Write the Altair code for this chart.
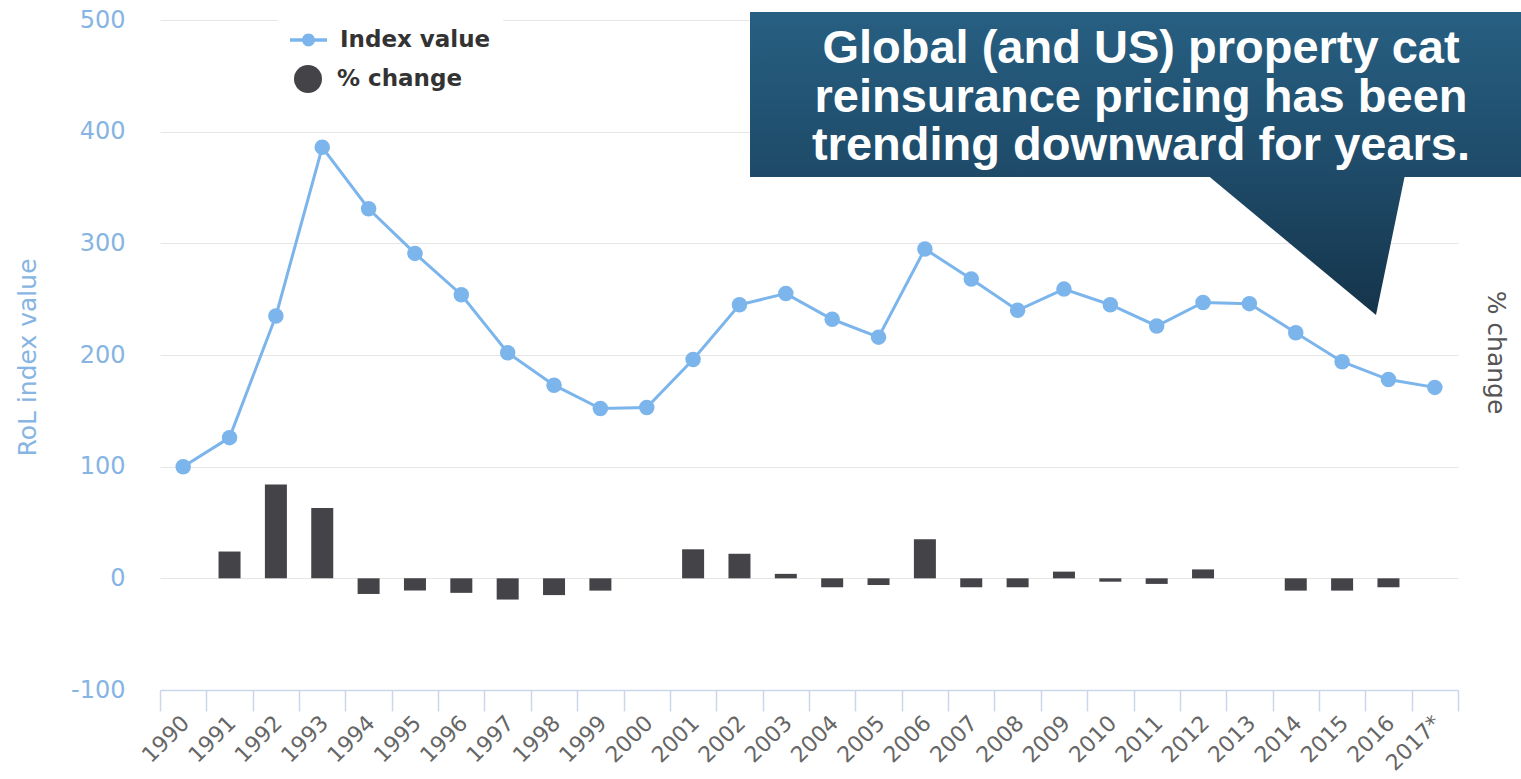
import altair as alt
import pandas as pd

# ---- data ----
years = ["1990", "1991", "1992", "1993", "1994", "1995", "1996", "1997", "1998", "1999",
         "2000", "2001", "2002", "2003", "2004", "2005", "2006", "2007", "2008", "2009",
         "2010", "2011", "2012", "2013", "2014", "2015", "2016", "2017*"]
index_values = [100, 126, 235, 386, 331, 291, 254, 202, 173, 152,
                153, 196, 245, 255, 232, 216, 295, 268, 240, 259,
                245, 226, 247, 246, 220, 194, 178, 171]
pct_change = [None, 24, 84, 63, -14, -11, -13, -19, -15, -11,
              0, 26, 22, 4, -8, -6, 35, -8, -8, 6,
              -3, -5, 8, 0, -11, -11, -8, None]
series_names = ["Index value", "% change"]
callout_lines = ["Global (and US) property cat",
                 "reinsurance pricing has been",
                 "trending downward for years."]
y_ticks = [-100, 0, 100, 200, 300, 400, 500]

df = pd.DataFrame({
    "year": years,
    "index": index_values,
    "pct": pct_change,
    "s1": series_names[0],
    "s2": series_names[1],
})
bars_df = df.dropna(subset=["pct"])

W, H = 1298, 670
LINE_BLUE = "#7cb5ec"
BAR_DARK = "#434348"
AXIS_BLUE = "#86b5e3"
FONT = "DejaVu Sans"

x_enc = alt.X("year:N", sort=years,
              scale=alt.Scale(paddingInner=0, paddingOuter=0),
              axis=alt.Axis(title=None, labelAngle=-45, labelAlign="right",
                            labelBaseline="top", labelFontSize=22,
                            labelColor="#666666", labelFont=FONT,
                            tickBand="extent", tickSize=21, tickColor="#ccd6eb",
                            tickWidth=1.5,
                            domainColor="#ccd6eb", domainWidth=1.5, grid=False,
                            labelPadding=1, labelOffset=-5))

left_axis = alt.Axis(title="RoL index value", values=y_ticks,
                     labelExpr="datum.value + ''",
                     labelFontSize=24, labelColor=AXIS_BLUE, labelFont=FONT,
                     labelPadding=35, ticks=False, domain=False,
                     grid=True, gridColor="#e6e6e6", gridWidth=1.2,
                     titleColor=AXIS_BLUE, titleFontSize=25, titleFontWeight="normal",
                     titleFont=FONT, titleX=-133, titleY=337,
                     titleAngle=-90, titleAlign="center", titleBaseline="middle")

y_scale = alt.Scale(domain=[-100, 500], nice=False, zero=False)

line = alt.Chart(df).mark_line(color=LINE_BLUE, strokeWidth=3).encode(
    x=x_enc,
    y=alt.Y("index:Q", scale=y_scale, axis=left_axis),
)

LEG_PATH = ("M-1,-0.09L1,-0.09L1,0.09L-1,0.09Z "
            "M0.35,0A0.35,0.35 0 1,1 -0.35,0A0.35,0.35 0 1,1 0.35,0Z")

points = alt.Chart(df).mark_point(filled=True, size=240, opacity=1, shape="circle").encode(
    x=x_enc,
    y=alt.Y("index:Q", scale=y_scale, axis=left_axis),
    color=alt.Color("s1:N", scale=alt.Scale(domain=[series_names[0]], range=[LINE_BLUE]),
                    legend=alt.Legend(title=None, orient="none", legendX=118, legendY=-10.5,
                                      symbolType=LEG_PATH, symbolSize=1369,
                                      symbolStrokeWidth=0, symbolOpacity=1,
                                      labelFont=FONT, labelFontSize=23,
                                      labelFontWeight="bold", labelColor="#333333",
                                      labelOffset=13, padding=12, fillColor="white")),
)

left = alt.layer(line, points)

bars = alt.Chart(bars_df).mark_bar(size=22).encode(
    x=x_enc,
    y=alt.Y("pct:Q", scale=y_scale,
            axis=alt.Axis(orient="right", title="% change", labels=False, ticks=False,
                          domain=False, grid=False, titleColor="#555555",
                          titleFontSize=25, titleFontWeight="normal", titleFont=FONT,
                          titleX=37, titleY=332, titleAngle=90,
                          titleAlign="center", titleBaseline="middle")),
    fill=alt.Fill("s2:N", scale=alt.Scale(domain=[series_names[1]], range=[BAR_DARK]),
                  legend=alt.Legend(title=None, orient="none", legendX=122, legendY=33,
                                    symbolType="circle", symbolSize=784,
                                    symbolStrokeWidth=0, symbolOpacity=1,
                                    labelFont=FONT, labelFontSize=23,
                                    labelFontWeight="bold", labelColor="#333333",
                                    labelOffset=15, padding=12, fillColor="white")),
)

one = pd.DataFrame({"a": [0]})

box_grad = alt.Gradient(gradient="linear", x1=0, x2=0, y1=0, y2=1,
                        stops=[alt.GradientStop(color="#275f82", offset=0),
                               alt.GradientStop(color="#1e4a68", offset=1)])
tri_grad = alt.Gradient(gradient="linear", x1=0, x2=0, y1=0, y2=1,
                        stops=[alt.GradientStop(color="#1e4a68", offset=0),
                               alt.GradientStop(color="#15344a", offset=1)])

callout_box = alt.Chart(one).mark_rect(fill=box_grad, strokeWidth=0).encode(
    x=alt.value(590), x2=alt.value(1361), y=alt.value(-8), y2=alt.value(157))

TRI_PATH = "M-1,-0.72L1,-0.72L0.707,0.697Z"
callout_tip = alt.Chart(one).mark_point(shape=TRI_PATH, size=39204, filled=True,
                                        fill=tri_grad, opacity=1, strokeWidth=0).encode(
    x=alt.value(1146), y=alt.value(226))

callout_text = alt.Chart(one).mark_text(
    text=callout_lines, align="center", baseline="alphabetic", lineHeight=48.5,
    font="Liberation Sans", fontSize=47, fontWeight="bold", color="white").encode(
    x=alt.value(981), y=alt.value(43))

chart = alt.layer(left, bars, callout_box, callout_tip, callout_text).resolve_scale(
    y="independent", color="independent"
).properties(
    width=W, height=H,
    autosize=alt.AutoSizeParams(type="none"),
    padding={"left": 160, "top": 20, "right": 63, "bottom": 89},
    background="white",
).configure_view(stroke=None)

chart.save("out.html", embed_options={"renderer": "svg", "actions": False})
